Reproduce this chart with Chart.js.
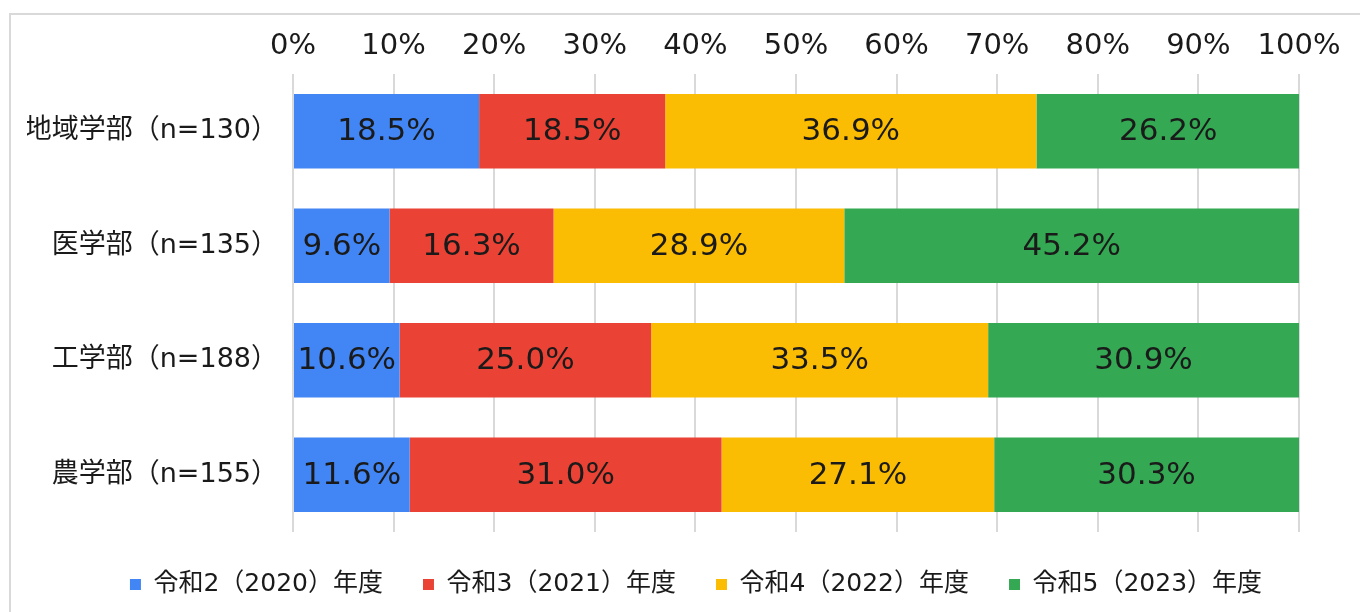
<!DOCTYPE html>
<html><head><meta charset="utf-8">
<script src="https://cdn.jsdelivr.net/npm/chart.js@4/dist/chart.umd.min.js"></script>
<style>
html,body{margin:0;padding:0;width:1360px;height:612px;overflow:hidden;background:#fff;}
#frame{position:absolute;left:9px;top:13px;width:1400px;height:700px;border:2px solid #d9d9d9;box-sizing:border-box;}
#wrap{position:absolute;left:0;top:0;width:1360px;height:612px;}
</style></head>
<body>
<div id="frame"></div>
<div id="wrap"><canvas id="c" width="1360" height="612"></canvas></div>
<script>
const categories = ['地域学部（n=130）','医学部（n=135）','工学部（n=188）','農学部（n=155）'];
const seriesNames = ['令和2（2020）年度','令和3（2021）年度','令和4（2022）年度','令和5（2023）年度'];
const r2020 = [18.5, 9.6, 10.6, 11.6];
const r2021 = [18.5, 16.3, 25.0, 31.0];
const r2022 = [36.9, 28.9, 33.5, 27.1];
const r2023 = [26.2, 45.2, 30.9, 30.3];
const tickValues = [0,10,20,30,40,50,60,70,80,90,100];
const colors = ['#4285F4','#EA4335','#FBBC04','#34A853'];
const FONT = '"DejaVu Sans", "Noto Sans CJK JP", sans-serif';

const labelPlugin = {
  id: 'barLabels',
  afterDatasetsDraw(chart) {
    const ctx = chart.ctx;
    ctx.save();
    ctx.font = '31px ' + FONT;
    ctx.fillStyle = '#1a1a1a';
    ctx.textAlign = 'center';
    ctx.textBaseline = 'middle';
    chart.data.datasets.forEach((ds, di) => {
      const meta = chart.getDatasetMeta(di);
      meta.data.forEach((el, i) => {
        const v = ds.data[i];
        const cx = (el.x + el.base) / 2;
        ctx.fillText(v.toFixed(1) + '%', cx, el.y + 1);
      });
    });
    ctx.restore();
  }
};

const allSeries = [r2020, r2021, r2022, r2023];
new Chart(document.getElementById('c'), {
  type: 'bar',
  data: {
    labels: categories,
    datasets: allSeries.map((d, i) => ({
      label: seriesNames[i],
      data: d,
      backgroundColor: colors[i],
      borderWidth: 0,
      barPercentage: 0.65,
      categoryPercentage: 1.0
    }))
  },
  options: {
    indexAxis: 'y',
    responsive: false,
    animation: false,
    devicePixelRatio: 1,
    layout: { padding: { left: 27, right: -5, top: 26, bottom: 5 } },
    scales: {
      x: {
        position: 'top',
        stacked: true,
        min: 0, max: 100,
        afterBuildTicks(scale) { scale.ticks = tickValues.map(v => ({ value: v })); },
        afterFit(scale) { scale.height = 48; scale.paddingRight = 61; },
        ticks: {
          font: { size: 29, family: FONT },
          color: '#1a1a1a',
          padding: 10,
          maxRotation: 0,
          callback: (v) => v + '%'
        },
        grid: { color: '#d9d9d9', lineWidth: 2, drawTicks: false },
        border: { display: false }
      },
      y: {
        stacked: true,
        afterFit(scale) { scale.width = 266; },
        ticks: {
          font: { size: 27, family: FONT },
          color: '#1a1a1a',
          padding: 7
        },
        grid: { display: false },
        border: { display: false }
      }
    },
    plugins: {
      legend: {
        position: 'bottom',
        labels: {
          font: { size: 25, family: FONT },
          color: '#1a1a1a',
          boxWidth: 11,
          boxHeight: 11,
          padding: 40
        }
      },
      tooltip: { enabled: false }
    }
  },
  plugins: [labelPlugin]
});
</script>
</body></html>
